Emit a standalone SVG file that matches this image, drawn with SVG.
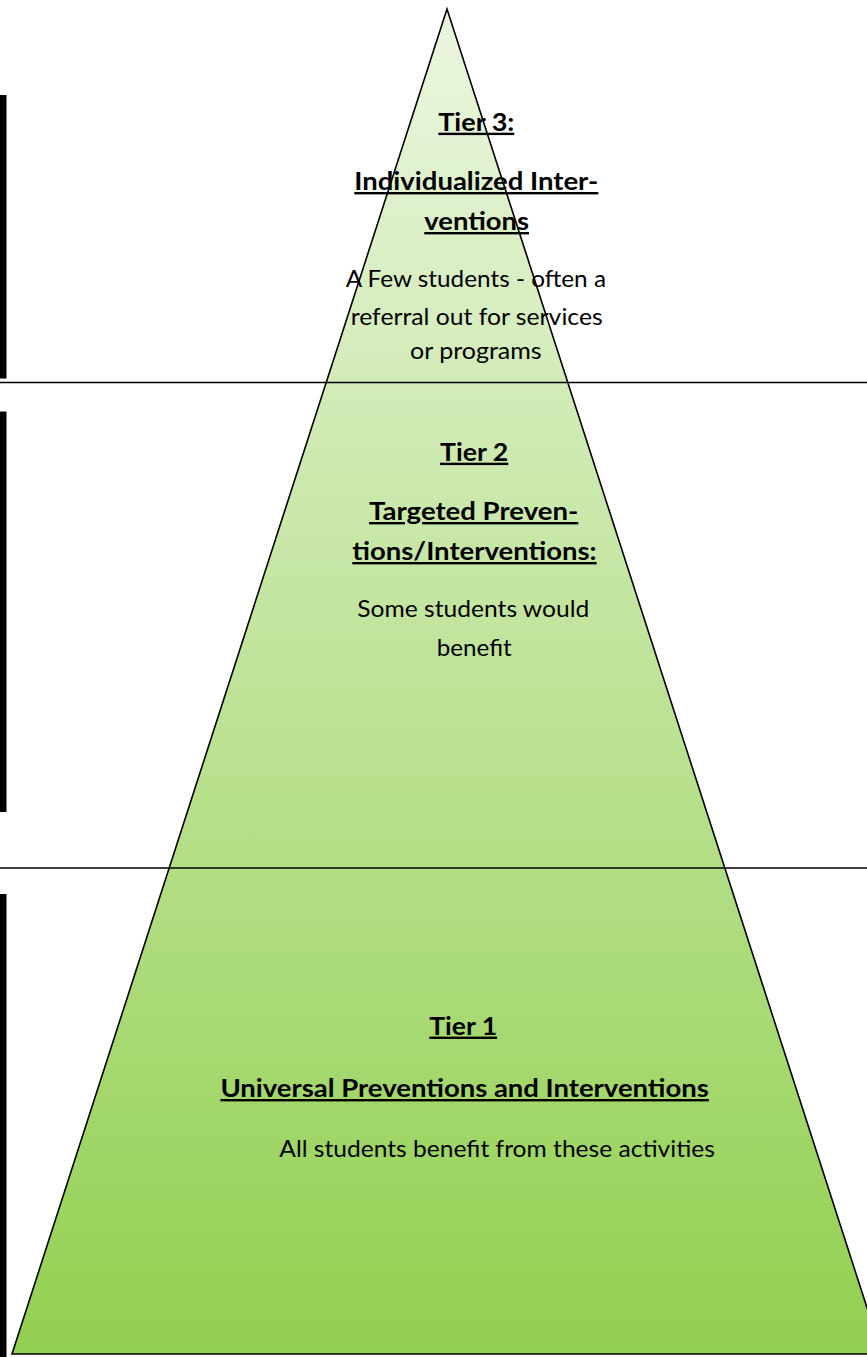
<svg xmlns="http://www.w3.org/2000/svg" width="867" height="1357" viewBox="0 0 867 1357">
  <style>
    .t { font-family: Lato, "Open Sans", "Liberation Sans", sans-serif; font-size: 24px; fill: #000; }
    .b { font-weight: bold; text-decoration: underline; }
    .bar { fill: #000; }
    .div { stroke: #000; stroke-width: 1.6; fill: none; }
  </style>
  <defs>
    <linearGradient id="g" gradientUnits="userSpaceOnUse" x1="0" y1="9" x2="0" y2="1354">
      <stop offset="0" stop-color="#ebf6e0"/>
      <stop offset="1" stop-color="#92d050"/>
    </linearGradient>
  </defs>
  <rect width="867" height="1357" fill="#fff"/>
  <g id="pyramid">
    <polygon points="447,9 12,1354 882,1354" fill="url(#g)" stroke="#000" stroke-width="1.6" stroke-linejoin="miter"/>
  </g>
  <g id="side-bars">
    <rect class="bar" x="0" y="95" width="6.5" height="283.5"/>
    <rect class="bar" x="0" y="411.5" width="6.5" height="400.5"/>
    <rect class="bar" x="0" y="894" width="6.5" height="463"/>
  </g>
  <g id="dividers">
    <line class="div" x1="0" y1="382.5" x2="867" y2="382.5"/>
    <line class="div" x1="0" y1="868" x2="867" y2="868"/>
  </g>
  <g id="tier3">
    <text class="t b" x="438.3" y="130.7" textLength="76" lengthAdjust="spacingAndGlyphs">Tier 3:</text>
    <text class="t b" x="354.3" y="190" textLength="244" lengthAdjust="spacingAndGlyphs">Individualized Inter-</text>
    <text class="t b" x="424.3" y="230" textLength="104.7" lengthAdjust="spacingAndGlyphs">ventions</text>
    <text class="t" x="345.7" y="287.3" textLength="260.3" lengthAdjust="spacingAndGlyphs">A Few students - often a</text>
    <text class="t" x="350.7" y="325" textLength="252" lengthAdjust="spacingAndGlyphs">referral out for services</text>
    <text class="t" x="410" y="359.3" textLength="131.7" lengthAdjust="spacingAndGlyphs">or programs</text>
  </g>
  <g id="tier2">
    <text class="t b" x="440" y="460.7" textLength="68.3" lengthAdjust="spacingAndGlyphs">Tier 2</text>
    <text class="t b" x="369" y="520" textLength="209.3" lengthAdjust="spacingAndGlyphs">Targeted Preven-</text>
    <text class="t b" x="352.3" y="560" textLength="244.4" lengthAdjust="spacingAndGlyphs">tions/Interventions:</text>
    <text class="t" x="357.3" y="617.3" textLength="232" lengthAdjust="spacingAndGlyphs">Some students would</text>
    <text class="t" x="436.7" y="656" textLength="75" lengthAdjust="spacingAndGlyphs">benefit</text>
  </g>
  <g id="tier1">
    <text class="t b" x="429.3" y="1034.6" textLength="67.8" lengthAdjust="spacingAndGlyphs">Tier 1</text>
    <text class="t b" x="220.4" y="1097" textLength="488.5" lengthAdjust="spacingAndGlyphs">Universal Preventions and Interventions</text>
    <text class="t" x="279.3" y="1157" textLength="435.7" lengthAdjust="spacingAndGlyphs">All students benefit from these activities</text>
  </g>
</svg>
